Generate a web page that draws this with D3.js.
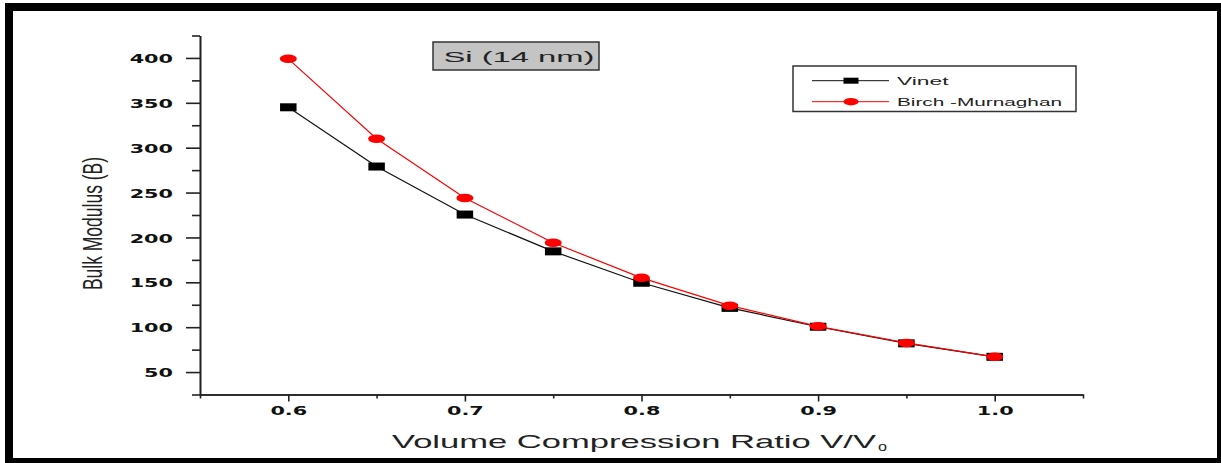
<!DOCTYPE html>
<html>
<head>
<meta charset="utf-8">
<script src="https://cdn.jsdelivr.net/npm/d3@7"></script>
<style>
  html, body { margin: 0; padding: 0; background: #fff; }
  svg { display: block; }
</style>
</head>
<body>
<div id="chart"></div>
<script>
(function() {
    'use strict';

    // data
    var ratios = [0.6, 0.65, 0.7, 0.75, 0.8, 0.85, 0.9, 0.95, 1.0];
    var vinet = [345, 279, 225.5, 184.5, 149.5, 121.5, 100.5, 82, 67];
    var birchMurnaghan = [399, 310, 244, 194, 155, 124, 101, 82.5, 67];
    var seriesNames = ["Vinet", "Birch -Murnaghan"];
    var yTicks = [50, 100, 150, 200, 250, 300, 350, 400];
    var yMinor = [25, 75, 125, 175, 225, 275, 325, 375, 425];
    var xTicks = [0.6, 0.7, 0.8, 0.9, 1.0];
    var xMinor = [0.55, 0.65, 0.75, 0.85, 0.95, 1.05];
    var title = "Si (14 nm)";
    var xTitle = "Volume Compression Ratio V/V";
    var xTitleSub = "o";
    var yTitle = "Bulk Modulus (B)";

    var width = 1221, height = 463;
    var stretch = 1.6;   // source picture is stretched sideways

    var svg = d3.select("#chart").append("svg")
        .attr("width", width)
        .attr("height", height);

    var xScale = d3.scaleLinear().domain([0.55, 1.05]).range([200, 1083]);
    var yScale = d3.scaleLinear().domain([25, 425]).range([394.5, 35.5]);

    // frame
    svg.append("rect")
        .attr("x", 9).attr("y", 7)
        .attr("width", 1212).attr("height", 455)
        .attr("fill", "none")
        .attr("stroke", "#000")
        .attr("stroke-width", 8);

    // axes
    var yAxis = d3.axisLeft(yScale).tickValues(yTicks).tickSize(14).tickSizeOuter(0).tickFormat(d3.format("d"));
    var yAxisMinor = d3.axisLeft(yScale).tickValues(yMinor).tickSize(8).tickSizeOuter(0).tickFormat("");
    var xAxis = d3.axisBottom(xScale).tickValues(xTicks).tickSize(7).tickSizeOuter(0).tickFormat(d3.format(".1f"));
    var xAxisMinor = d3.axisBottom(xScale).tickValues(xMinor).tickSize(4).tickSizeOuter(0).tickFormat("");

    function styleAxis(g) {
        g.selectAll("path, line").attr("stroke", "#222").attr("stroke-width", 1.6);
        g.selectAll("text")
            .attr("fill", "#111")
            .style("font", "bold 13px 'DejaVu Sans', sans-serif");
    }

    var gy = svg.append("g").attr("transform", "translate(" + xScale.range()[0] + ",0)").call(yAxis).call(styleAxis);
    gy.selectAll("text")
        .attr("x", -27 / stretch)
        .attr("dy", "0.36em")
        .attr("transform", "scale(" + stretch + ",1)");
    svg.append("g").attr("transform", "translate(" + xScale.range()[0] + ",0)").call(yAxisMinor).call(styleAxis);

    var gx = svg.append("g").attr("transform", "translate(0," + yScale.range()[0] + ")").call(xAxis).call(styleAxis);
    gx.selectAll("text")
        .attr("y", 21)
        .attr("dy", 0)
        .attr("transform", "scale(" + stretch + ",1)");
    svg.append("g").attr("transform", "translate(0," + yScale.range()[0] + ")").call(xAxisMinor).call(styleAxis);

    // axis titles
    svg.append("text")
        .attr("x", 392)
        .attr("y", 447.5)
        .attr("textLength", 484)
        .attr("lengthAdjust", "spacingAndGlyphs")
        .attr("fill", "#222")
        .style("font", "19px 'Liberation Sans', Arial, sans-serif")
        .text(xTitle);
    svg.append("text")
        .attr("x", 878)
        .attr("y", 451)
        .attr("textLength", 9)
        .attr("lengthAdjust", "spacingAndGlyphs")
        .attr("fill", "#222")
        .style("font", "12px 'Liberation Sans', Arial, sans-serif")
        .text(xTitleSub);

    svg.append("text")
        .attr("transform", "translate(102,223.5) scale(1.6,1) rotate(-90)")
        .attr("text-anchor", "middle")
        .attr("fill", "#222")
        .style("font", "17.5px 'Liberation Sans', Arial, sans-serif")
        .text(yTitle);

    // series
    var series = [
        {name: seriesNames[0], values: vinet, color: "#111", marker: "square"},
        {name: seriesNames[1], values: birchMurnaghan, color: "#ff0000", marker: "circle"}
    ];

    var lineGen = d3.line()
        .x(function(d) { return xScale(d.x); })
        .y(function(d) { return yScale(d.y); });

    function drawMarker(g, type, color, w, h) {
        if (type === "square") {
            g.append("rect")
                .attr("x", -w / 2).attr("y", -h / 2)
                .attr("width", w).attr("height", h)
                .attr("fill", color);
        } else {
            g.append("ellipse")
                .attr("rx", w / 2).attr("ry", h / 2)
                .attr("fill", color);
        }
    }

    series.forEach(function(s) {
        var pts = ratios.map(function(r, i) { return {x: r, y: s.values[i]}; });
        svg.append("path")
            .attr("d", lineGen(pts))
            .attr("fill", "none")
            .attr("stroke", s.color)
            .attr("stroke-width", 1.2);
        svg.selectAll(".pt-" + s.marker)
            .data(pts).enter()
            .append("g")
            .attr("class", "pt-" + s.marker)
            .attr("transform", function(d) { return "translate(" + xScale(d.x) + "," + yScale(d.y) + ")"; })
            .each(function() {
                if (s.marker === "square") drawMarker(d3.select(this), s.marker, "#000", 16.5, 8);
                else drawMarker(d3.select(this), s.marker, s.color, 17, 8.5);
            });
    });

    // title box
    var tb = svg.append("g");
    tb.append("rect")
        .attr("x", 433).attr("y", 42)
        .attr("width", 166).attr("height", 28)
        .attr("fill", "#c4c4c4")
        .attr("stroke", "#333")
        .attr("stroke-width", 1.5);
    tb.append("text")
        .attr("x", 443.5)
        .attr("y", 61.5)
        .attr("textLength", 151)
        .attr("lengthAdjust", "spacingAndGlyphs")
        .attr("fill", "#222")
        .style("font", "15px 'Liberation Sans', Arial, sans-serif")
        .text(title);

    // legend
    var legend = svg.append("g");
    legend.append("rect")
        .attr("x", 793).attr("y", 66)
        .attr("width", 283).attr("height", 45.5)
        .attr("fill", "#fff")
        .attr("stroke", "#333")
        .attr("stroke-width", 1.5);
    var legendRows = [80.7, 101.7];
    var legendTextLen = [51.5, 165];
    series.forEach(function(s, i) {
        var row = legend.append("g").attr("transform", "translate(0," + legendRows[i] + ")");
        row.append("line")
            .attr("x1", 812).attr("x2", 889)
            .attr("stroke", s.color)
            .attr("stroke-width", 1);
        var m = row.append("g").attr("transform", "translate(851,0)");
        if (s.marker === "square") drawMarker(m, s.marker, "#000", 15, 6);
        else drawMarker(m, s.marker, s.color, 15, 7.5);
        row.append("text")
            .attr("x", 897)
            .attr("y", 4.5)
            .attr("textLength", legendTextLen[i])
            .attr("lengthAdjust", "spacingAndGlyphs")
            .attr("fill", "#222")
            .style("font", "10.5px 'Liberation Sans', Arial, sans-serif")
            .text(s.name);
    });
})();
</script>
</body>
</html>
